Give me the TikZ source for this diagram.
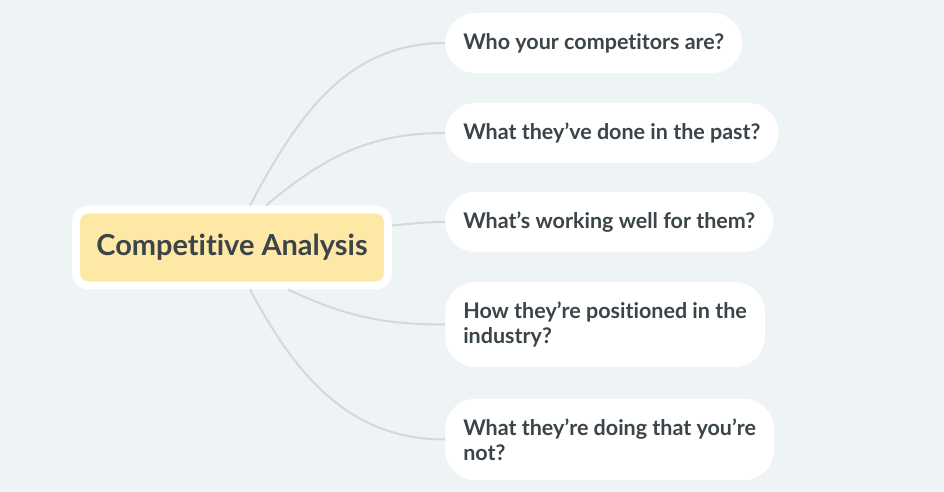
\documentclass[tikz,border=0pt]{standalone}
\usepackage{fontspec}
\setmainfont{Lato}[Ligatures=NoCommon]
\usepackage{tikz}
\definecolor{bgcol}{HTML}{EEF3F6}
\definecolor{topiccol}{HTML}{FEE8A6}
\definecolor{textcol}{HTML}{3B4449}
\definecolor{linecol}{HTML}{D3D8DB}
\tikzset{
  central/.style={fill=topiccol, draw=white, line width=0.2cm, rounded corners=0.3cm,
    minimum width=7.8cm, minimum height=1.9cm, text=textcol,
    font=\fontsize{20.6}{24}\selectfont\bfseries},
  branch/.style={fill=white, rounded corners=0.75cm, anchor=west, align=left,
    inner xsep=0.45cm, minimum height=1.5cm, text=textcol,
    font=\fontsize{15.3}{17.5}\selectfont\bfseries},
  twoline/.style={branch, inner ysep=0.5cm},
  link/.style={draw=linecol, line width=0.05cm}
}
\begin{document}
\begin{tikzpicture}
\useasboundingbox (0,0) rectangle (23.6,12.3) ;
\fill[bgcol] (0,0) rectangle (23.6,12.3) ;
\node[central] (topic) at (5.8,6.1125) {Competitive Analysis} ;
\node[branch] (who) at (11.125,11.225) {Who your competitors are?} ;
\node[branch] (past) at (11.125,8.975) {What they’ve done in the past?} ;
\node[branch] (well) at (11.125,6.75) {What’s working well for them?} ;
\node[twoline] (pos) at (11.125,4.1875) {How they’re positioned in the\\industry?} ;
\node[twoline] (doing) at (11.125,1.3125) {What they’re doing that you’re\\not?} ;
\draw[link] ([xshift=0.45cm]topic.north) to[out=62,in=180] (who.west) ;
\draw[link] ([xshift=0.85cm]topic.north) to[out=40,in=180] (past.west) ;
\draw[link] ([yshift=0.55cm]topic.east) to[out=5,in=180] (well.west) ;
\draw[link] ([xshift=1.4cm]topic.south) to[out=-25,in=180] (pos.west) ;
\draw[link] ([xshift=0.45cm]topic.south) to[out=-62,in=180] (doing.west) ;
\end{tikzpicture}
\end{document}
